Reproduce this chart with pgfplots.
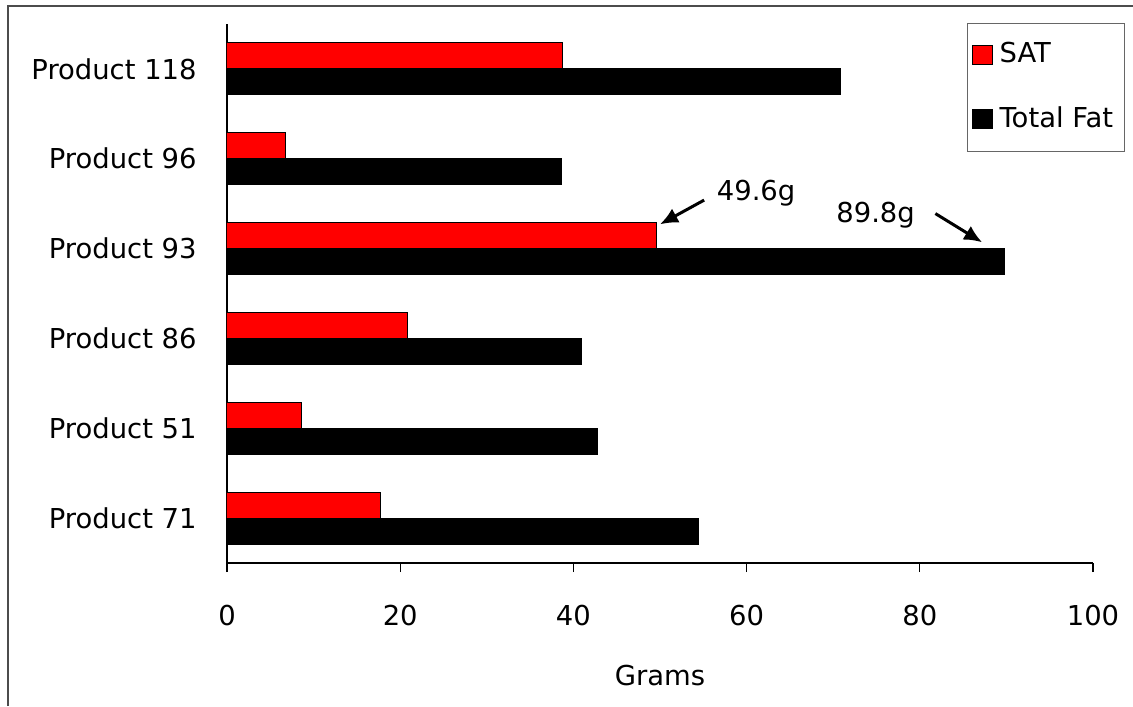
\documentclass[border=0pt]{standalone}
\usepackage{fontspec}
\setmainfont{DejaVu Sans}
\usepackage{pgfplots}
\pgfplotsset{compat=1.18}
\usetikzlibrary{arrows.meta}
\begin{document}
\begin{tikzpicture}[font=\fontsize{7.8pt}{9.4pt}\selectfont]
\useasboundingbox (0,0) rectangle (113.3mm,-70.6mm);
\draw[line width=0.15mm, black!70] (0.8mm,-70.6mm) -- (0.8mm,-0.6mm) -- (113.3mm,-0.6mm);
\begin{axis}[
  at={(22.7mm,-56.3mm)}, anchor=south west,
  scale only axis, width=86.6mm, height=53.9mm,
  xbar, bar width=2.6mm,
  xmin=0, xmax=100, ymin=-0.5, ymax=5.5,
  axis x line*=bottom, axis y line*=left,
  axis line style={line width=0.12mm},
  xtick={0,20,40,60,80,100},
  ytick={0,1,2,3,4,5},
  yticklabels={Product 71,Product 51,Product 86,Product 93,Product 96,Product 118},
  minor ytick={-0.5,0.5,1.5,2.5,3.5,4.5,5.5},
  tick align=outside,
  major tick length=0.9mm, minor tick length=1.1mm,
  ytick style={draw=none},
  minor y tick style={line width=0.12mm, black},
  xtick style={line width=0.12mm, black},
  yticklabel shift=0.9mm,
  xticklabel shift=2.1mm,
  /pgf/number format/assume math mode=true,
  xlabel={Grams},
  xlabel style={at={(axis description cs:0.5,0)}, anchor=center, yshift=-11.3mm},
  legend style={at={(0.8545,1.002)}, anchor=north west, draw=black!60, line width=0.12mm,
    inner xsep=0.4mm, inner ysep=1.2mm, row sep=2.4mm, cells={anchor=west}},
  legend image code/.code={\draw[#1, line width=0.1mm] (0mm,-0.95mm) rectangle (2mm,0.95mm);},
]
\addplot[fill=red, draw=black, line width=0.1mm, bar shift=1.3mm] coordinates {
  (17.7,0) (8.6,1) (20.9,2) (49.6,3) (6.7,4) (38.7,5)};
\addlegendentry{SAT}
\addplot[fill=black, draw=black, line width=0.1mm, bar shift=-1.3mm] coordinates {
  (54.4,0) (42.8,1) (40.9,2) (89.8,3) (38.6,4) (70.9,5)};
\addlegendentry{Total Fat}
\node at (axis cs:61.1,3.62) {49.6g};
\node at (axis cs:74.9,3.37) {89.8g};
\draw[line width=0.3mm, -{Latex[length=1.8mm,width=1.6mm]}] (axis cs:55.1,3.54) -- (axis cs:50.0,3.27);
\draw[line width=0.3mm, -{Latex[length=1.8mm,width=1.6mm]}] (axis cs:81.8,3.39) -- (axis cs:87.2,3.07);
\end{axis}
\end{tikzpicture}
\end{document}
